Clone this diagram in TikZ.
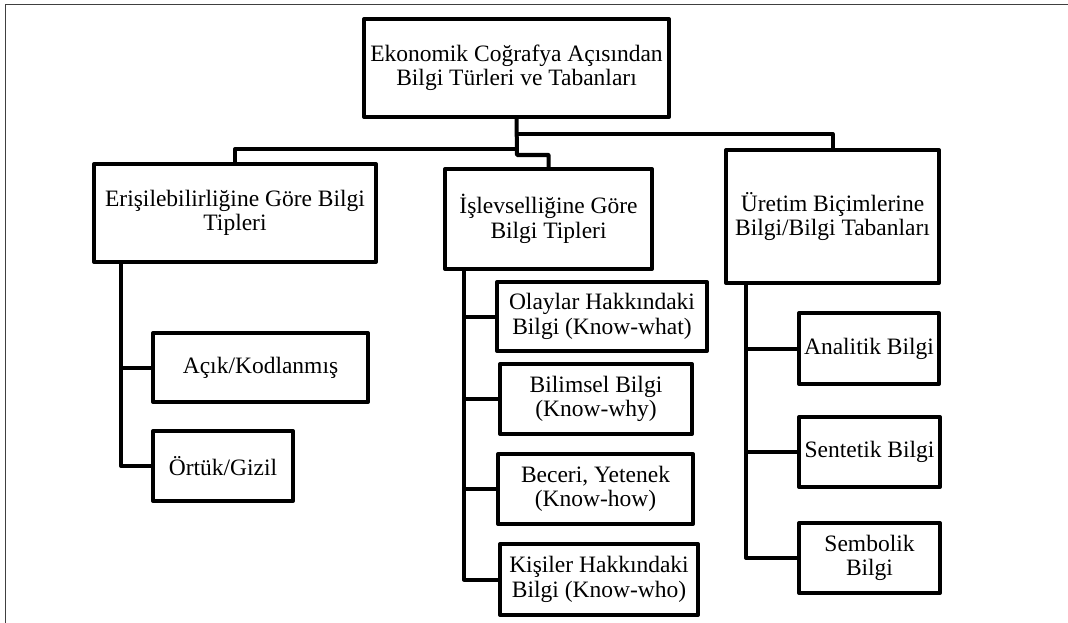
\documentclass[tikz,border=0pt]{standalone}
\usepackage{fontspec}
\setmainfont{Liberation Serif}
\begin{document}
\begin{tikzpicture}[x=1pt,y=-1pt,
  box/.style={draw=black, line width=4pt, line join=round, rectangle, inner sep=0pt, align=center,
    font=\fontsize{23.5pt}{24.5pt}\selectfont},
  conn/.style={draw=black, line width=4pt, line join=round}]
\useasboundingbox (0,0) rectangle (1068,623);
\draw[line width=1.5pt, black!75] (5.5,623) -- (5.5,4.7) -- (1068,4.7);

\node[box, minimum width=305pt, minimum height=98pt] (top) at (516.5,68) {Ekonomik Coğrafya Açısından\\Bilgi Türleri ve Tabanları};
\node[box, minimum width=282pt, minimum height=98pt] (b1) at (235,213) {Erişilebilirliğine Göre Bilgi\\Tipleri};
\node[box, minimum width=207pt, minimum height=100pt] (b2) at (548.5,219) {İşlevselliğine Göre\\Bilgi Tipleri};
\node[box, minimum width=213pt, minimum height=133pt] (b3) at (832.5,216.5) {Üretim Biçimlerine\\Bilgi/Bilgi Tabanları};

\node[box, minimum width=215pt, minimum height=69pt] (acik) at (260.5,367.5) {Açık/Kodlanmış};
\node[box, minimum width=140pt, minimum height=70pt] (ortuk) at (223,466) {Örtük/Gizil};

\node[box, minimum width=210pt, minimum height=69pt] (olay) at (602,316.5) {Olaylar Hakkındaki\\Bilgi (Know-what)};
\node[box, minimum width=192pt, minimum height=70pt] (bilim) at (596,399) {Bilimsel Bilgi\\(Know-why)};
\node[box, minimum width=195pt, minimum height=70pt] (beceri) at (595.5,489) {Beceri, Yetenek\\(Know-how)};
\node[box, minimum width=198pt, minimum height=71pt] (kisi) at (599,579.5) {Kişiler Hakkındaki\\Bilgi (Know-who)};

\node[box, minimum width=140pt, minimum height=71pt] (anal) at (869,348.5) {Analitik Bilgi};
\node[box, minimum width=141pt, minimum height=70pt] (sent) at (869.5,452) {Sentetik Bilgi};
\node[box, minimum width=141pt, minimum height=70pt] (semb) at (869.5,558) {Sembolik\\Bilgi};

\coordinate (jog) at (517,155);
\coordinate (rb) at (517,134);
\coordinate (lb) at (517,149);
\draw[conn] (top.south) -- (jog) -| (b2.north);
\draw[conn] (rb) -| (b3.north);
\draw[conn] (lb) -| (b1.north);

\draw[conn] ([xshift=29pt]b1.south west) |- (acik.west);
\draw[conn] ([xshift=29pt]b1.south west) |- (ortuk.west);

\draw[conn] ([xshift=21pt]b2.south west) |- (olay.west);
\draw[conn] ([xshift=21pt]b2.south west) |- (bilim.west);
\draw[conn] ([xshift=21pt]b2.south west) |- (beceri.west);
\draw[conn] ([xshift=21pt]b2.south west) |- (kisi.west);

\draw[conn] ([xshift=22pt]b3.south west) |- (anal.west);
\draw[conn] ([xshift=22pt]b3.south west) |- (sent.west);
\draw[conn] ([xshift=22pt]b3.south west) |- (semb.west);
\end{tikzpicture}
\end{document}
